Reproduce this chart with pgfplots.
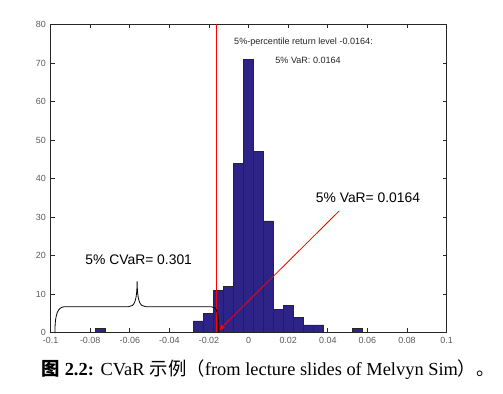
\documentclass[border=0pt]{standalone}
\usepackage{pgfplots}
\pgfplotsset{compat=1.18}
\usepackage{fontspec}
\setmainfont{Liberation Sans}
\newfontfamily\seriffont{Liberation Serif}
\newfontfamily\cjk{Noto Sans CJK SC}
\usetikzlibrary{arrows.meta}
\definecolor{barblue}{RGB}{46,36,135}
\definecolor{axgray}{RGB}{38,38,38}
\definecolor{lblgray}{RGB}{90,90,90}
\begin{document}
\begin{tikzpicture}
\path[use as bounding box] (0,0) rectangle (377.25pt,294.75pt);
\begin{axis}[
  at={(37.95pt,45.4pt)}, anchor=south west,
  scale only axis, width=297pt, height=231pt,
  xmin=-0.1, xmax=0.1, ymin=0, ymax=80,
  xtick={-0.1,-0.08,...,0.1}, ytick={0,10,...,80},
  scaled x ticks=false,
  xticklabel style={/pgf/number format/fixed,/pgf/number format/precision=2},
  /pgf/number format/assume math mode=true,
  tick label style={font=\fontsize{6.7pt}{7pt}\selectfont, text=lblgray},
  axis line style={axgray, line width=0.5pt},
  tick style={axgray, line width=0.5pt},
  tick align=inside, major tick length=3pt,
  clip=false,
]
\addplot[ybar, bar width=0.00505, fill=barblue, draw=black!85, line width=0.4pt]
coordinates {
(-0.0747,1)
(-0.02535,3)
(-0.0203,5)
(-0.01525,11)
(-0.0102,12)
(-0.00515,44)
(-0.0001,71)
(0.00495,47)
(0.0100,29)
(0.01505,6)
(0.0201,7)
(0.02515,4)
(0.0302,2)
(0.03525,2)
(0.0549,1)
};
\addplot[red, line width=0.75pt] coordinates {(-0.0164,0) (-0.0164,80)};
\draw[red, line width=0.6pt, -{Latex[length=5pt,width=4pt]}] (axis cs:0.0458,31.6) -- (axis cs:-0.0153,0.4);
\draw[black, line width=0.6pt] (axis cs:-0.0978,0) .. controls (axis cs:-0.0978,5.2) and (axis cs:-0.0962,6.7) .. (axis cs:-0.0925,6.7) -- (axis cs:-0.0606,6.7) .. controls (axis cs:-0.0574,6.7) and (axis cs:-0.0564,8.5) .. (axis cs:-0.0563,13.3) .. controls (axis cs:-0.0562,8.5) and (axis cs:-0.0552,6.7) .. (axis cs:-0.0520,6.7) -- (axis cs:-0.0190,6.7) .. controls (axis cs:-0.0160,6.7) and (axis cs:-0.0150,5.2) .. (axis cs:-0.0150,0);
\node[font=\fontsize{10.4pt}{12pt}\selectfont, inner sep=0pt] at (axis cs:0.0603,34.9) {5\% VaR= 0.0164};
\node[font=\fontsize{10.4pt}{12pt}\selectfont, inner sep=0pt] at (axis cs:-0.0555,19.0) {5\% CVaR= 0.301};
\node[font=\fontsize{6.8pt}{8pt}\selectfont, inner sep=0pt, anchor=west, text=black!85] at (axis cs:-0.0074,75.3) {5\%-percentile return level -0.0164:};
\node[font=\fontsize{6.8pt}{8pt}\selectfont, inner sep=0pt, anchor=west, text=black!85] at (axis cs:0.0134,70.8) {5\% VaR: 0.0164};
\end{axis}
\node[anchor=base, inner sep=0pt, font=\fontsize{13.8pt}{16pt}\selectfont] at (201pt,13.5pt) {{\cjk\bfseries 图} {\seriffont\bfseries 2.2:} {\seriffont CVaR} {\cjk 示例（}{\seriffont from lecture slides of Melvyn Sim}{\cjk ）。}};
\end{tikzpicture}
\end{document}
